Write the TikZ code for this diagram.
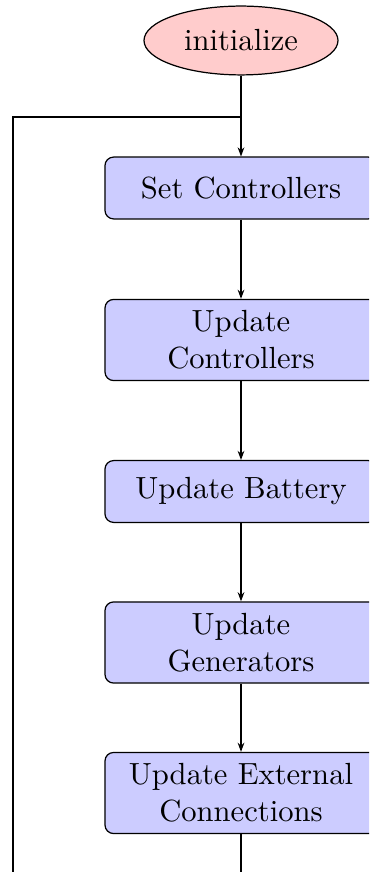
\documentclass[tikz,border=0pt]{standalone}
\usetikzlibrary{shapes.geometric,arrows.meta}

\tikzset{
  startnode/.style={ellipse, draw, fill=red!20, line width=0.4pt,
    minimum width=63.4pt, minimum height=22.5pt, inner sep=0pt},
  procbox/.style={rectangle, rounded corners=2.8pt, draw, fill=blue!20,
    line width=0.4pt, minimum width=88.9pt, align=center, inner sep=0pt},
  onerow/.style={minimum height=20.2pt},
  tworow/.style={minimum height=26.5pt},
  flow/.style={line width=0.4pt, -{Stealth[length=3pt,width=2.2pt]}},
  wire/.style={line width=0.4pt}
}

\begin{document}
\begin{tikzpicture}[x=0.3268pt, y=-0.3268pt]
  \useasboundingbox (0,0) rectangle (369,872);
  \clip (0,0) rectangle (369,872);

  % start of the loop
  \node[startnode] (init) at (241,40.5) {initialize};

  % processing steps
  \node[procbox, onerow] (set)  at (241,188)   {Set Controllers};
  \node[procbox, tworow] (ctrl) at (241,340)   {Update\\Controllers};
  \node[procbox, onerow] (batt) at (241,491.5) {Update Battery};
  \node[procbox, tworow] (gen)  at (241,642.5) {Update\\Generators};
  \node[procbox, tworow] (ext)  at (241,793)   {Update External\\Connections};

  % return path of the loop
  \coordinate (merge) at (241,117);
  \coordinate (loopend) at (13,900);
  \coordinate (extout) at (241,900);

  \draw[flow] (init) -- (set);
  \draw[flow] (set) -- (ctrl);
  \draw[flow] (ctrl) -- (batt);
  \draw[flow] (batt) -- (gen);
  \draw[flow] (gen) -- (ext);
  \draw[wire] (ext) -- (extout);
  \draw[wire] (loopend) |- (merge);
\end{tikzpicture}
\end{document}
